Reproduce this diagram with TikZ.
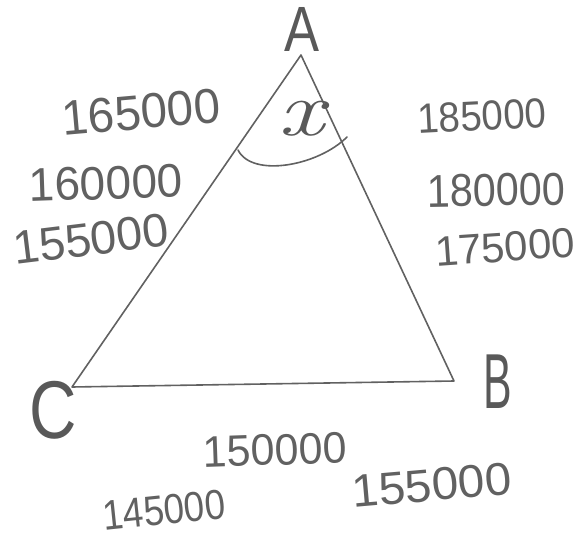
\documentclass[tikz,border=0pt]{standalone}
\usepackage{fontspec}
\setmainfont{Liberation Sans}
\newfontfamily\lmit{Latin Modern Roman}
\begin{document}
\begin{tikzpicture}[x=1pt,y=-1pt,
  pencil/.style={draw=black!62, line width=1.6pt, line cap=round, line join=round},
  num/.style={text=black!62, inner sep=0pt},
  vlabel/.style={text=black!65, inner sep=0pt}]
\useasboundingbox (0,0) rectangle (576,538);
% triangle vertices
\coordinate (A) at (301,55);
\coordinate (B) at (454,381);
\coordinate (C) at (72,387);
\draw[pencil] (A) -- (B) -- (C) -- cycle;
% angle arc at A
\coordinate (a1) at (238,150);
\coordinate (a2) at (347,137);
\draw[pencil] (a1) .. controls (252,178) and (318,166) .. (a2);
\node[vlabel, font=\fontsize{78}{80}\selectfont\lmit\itshape] (x) at (301,119) {\scalebox{1.3}[1]{x}};
% vertex labels
\node[vlabel, font=\fontsize{64}{66}\selectfont] (lA) at (302,29) {\scalebox{0.82}[1]{A}};
\node[vlabel, font=\fontsize{78}{80}\selectfont] (lB) at (498,382) {\scalebox{0.55}[1]{B}};
\node[vlabel, font=\fontsize{82}{84}\selectfont] (lC) at (53,410) {\scalebox{0.8}[1]{C}};
% left side values
\node[num, rotate=5, font=\fontsize{49}{51}\selectfont] (l1) at (141,112) {\scalebox{0.97}[1]{165000}};
\node[num, rotate=2, font=\fontsize{47}{49}\selectfont] (l2) at (106,183) {\scalebox{0.98}[1]{160000}};
\node[num, rotate=7, font=\fontsize{47}{49}\selectfont] (l3) at (91,239) {155000};
% right side values
\node[num, rotate=3, font=\fontsize{42}{44}\selectfont] (r1) at (482,116) {\scalebox{0.92}[1]{185000}};
\node[num, rotate=1, font=\fontsize{46}{48}\selectfont] (r2) at (496,190) {\scalebox{0.9}[1]{180000}};
\node[num, rotate=4, font=\fontsize{42}{44}\selectfont] (r3) at (505,247) {175000};
% bottom values
\node[num, rotate=2, font=\fontsize{44}{46}\selectfont] (b1) at (275,450) {\scalebox{0.98}[1]{150000}};
\node[num, rotate=5, font=\fontsize{46}{48}\selectfont] (b2) at (432,485) {\scalebox{1.04}[1]{155000}};
\node[num, rotate=6, font=\fontsize{42}{44}\selectfont] (b3) at (164,510) {\scalebox{0.88}[1]{145000}};
\end{tikzpicture}
\end{document}
